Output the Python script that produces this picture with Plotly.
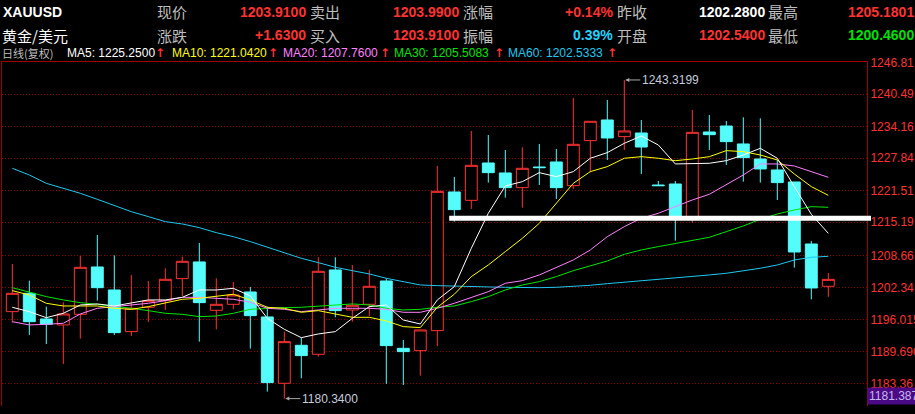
import plotly.graph_objects as go

# ---------------- data ----------------
idx = list(range(49))
opens = [1197.53, 1201.15, 1196.08, 1194.90, 1197.00, 1206.36, 1201.81, 1193.58, 1198.39, 1199.70,
         1204.05, 1207.35, 1197.79, 1198.98, 1201.42, 1196.48, 1183.37, 1190.88, 1189.10, 1205.77,
         1197.86, 1198.98, 1203.59, 1190.28, 1189.82, 1193.78, 1221.18, 1219.53, 1226.91, 1224.94,
         1222.04, 1226.12, 1227.11, 1222.43, 1231.33, 1235.41, 1232.12, 1232.84, 1222.56, 1222.76,
         1215.98, 1233.04, 1234.22, 1230.67, 1227.70, 1225.53, 1223.16, 1210.90, 1202.54]
highs = [1206.95, 1203.66, 1198.52, 1199.38, 1208.53, 1212.68, 1208.66, 1204.78, 1203.59, 1206.09,
         1208.40, 1211.10, 1204.12, 1203.39, 1202.41, 1198.52, 1193.58, 1192.39, 1208.27, 1208.27,
         1206.75, 1205.77, 1204.12, 1191.93, 1193.91, 1226.32, 1224.15, 1233.24, 1232.45, 1229.48,
         1230.01, 1230.67, 1229.68, 1239.76, 1235.15, 1239.36, 1243.3199, 1235.41, 1223.35, 1223.35,
         1237.39, 1236.40, 1235.21, 1235.94, 1235.74, 1227.50, 1223.16, 1211.50, 1205.18]
lows = [1195.36, 1192.92, 1191.14, 1187.19, 1192.20, 1199.70, 1192.92, 1192.72, 1195.49, 1197.86,
        1200.63, 1191.60, 1194.04, 1197.99, 1190.22, 1181.72, 1180.34, 1184.36, 1188.64, 1196.41,
        1195.55, 1196.67, 1183.24, 1183.04, 1184.88, 1190.75, 1215.32, 1217.82, 1223.03, 1220.06,
        1218.08, 1222.56, 1219.80, 1221.77, 1225.07, 1227.50, 1229.48, 1224.74, 1222.37, 1211.56,
        1215.12, 1229.48, 1226.52, 1223.22, 1223.03, 1219.60, 1206.23, 1199.97, 1200.46]
closes = [1201.15, 1195.55, 1195.03, 1197.07, 1206.29, 1202.27, 1193.38, 1198.19, 1199.70, 1203.92,
          1207.48, 1199.31, 1198.98, 1200.83, 1196.74, 1183.50, 1191.60, 1188.84, 1205.50, 1197.73,
          1198.78, 1202.54, 1190.81, 1189.63, 1193.91, 1221.31, 1217.69, 1226.45, 1225.00, 1222.04,
          1225.86, 1225.99, 1222.04, 1230.60, 1235.15, 1231.85, 1233.24, 1230.07, 1222.43, 1216.31,
          1232.97, 1232.51, 1231.13, 1227.97, 1225.73, 1223.03, 1209.32, 1202.21, 1203.91]

ma5 = [1198.39, 1197.53, 1196.34, 1197.20, 1198.85, 1199.05, 1198.65, 1199.18, 1199.84, 1199.84,
       1200.36, 1201.81, 1201.81, 1202.14, 1200.63, 1196.21, 1194.04, 1192.39, 1193.12, 1193.58,
       1196.21, 1198.52, 1198.85, 1195.88, 1195.09, 1199.84, 1202.47, 1210.05, 1216.97, 1222.37,
       1223.22, 1225.00, 1224.21, 1225.20, 1227.84, 1228.96, 1230.80, 1232.25, 1230.47, 1226.72,
       1226.85, 1226.85, 1227.37, 1228.49, 1229.81, 1227.84, 1222.24, 1216.77, 1213.01]
ma10 = [1201.68, 1200.82, 1199.18, 1198.65, 1198.65, 1198.65, 1198.19, 1197.99, 1198.52, 1199.18,
        1199.97, 1200.17, 1200.63, 1200.96, 1199.84, 1198.39, 1198.19, 1197.40, 1197.73, 1197.07,
        1196.41, 1196.41, 1195.69, 1194.57, 1194.37, 1198.39, 1200.96, 1204.45, 1206.75, 1209.39,
        1212.02, 1214.99, 1218.94, 1222.89, 1225.20, 1226.19, 1227.84, 1228.16, 1227.84, 1227.37,
        1227.70, 1228.16, 1229.35, 1229.15, 1228.49, 1227.51, 1224.74, 1222.24, 1220.52]
ma20 = [1195.55, 1194.90, 1195.03, 1195.23, 1197.07, 1198.19, 1198.52, 1198.85, 1199.18, 1199.70,
        1200.36, 1200.36, 1200.17, 1199.97, 1199.38, 1198.19, 1197.99, 1197.53, 1197.86, 1198.19,
        1198.19, 1198.19, 1197.99, 1197.40, 1197.40, 1198.19, 1199.18, 1200.30, 1201.48, 1203.13,
        1203.66, 1204.78, 1206.29, 1207.74, 1209.72, 1212.35, 1214.33, 1215.98, 1216.97, 1218.28,
        1219.60, 1220.72, 1222.57, 1224.54, 1226.72, 1226.72, 1226.32, 1225.20, 1224.08]
ma30 = [1202.27, 1201.35, 1200.50, 1199.84, 1199.31, 1198.98, 1198.65, 1198.19, 1197.73, 1197.20,
        1197.00, 1196.54, 1196.67, 1197.20, 1197.99, 1198.19, 1198.32, 1198.39, 1198.65, 1198.85,
        1199.05, 1198.85, 1198.19, 1197.86, 1197.99, 1198.39, 1198.65, 1199.51, 1200.50, 1201.81,
        1202.80, 1203.46, 1204.45, 1205.63, 1206.56, 1207.54, 1208.86, 1209.72, 1210.38, 1211.04,
        1211.56, 1212.22, 1213.34, 1214.46, 1215.78, 1216.83, 1217.62, 1218.28, 1218.15]
ma60 = [1225.86, 1224.54, 1222.89, 1221.91, 1220.92, 1219.73, 1218.48, 1217.29, 1216.31, 1215.32,
        1214.86, 1214.13, 1213.14, 1212.35, 1211.37, 1210.25, 1209.19, 1208.07, 1207.22, 1206.29,
        1205.63, 1204.98, 1204.12, 1203.46, 1202.80, 1202.67, 1202.54, 1202.47, 1202.41, 1202.34,
        1202.27, 1202.27, 1202.34, 1202.47, 1202.74, 1203.06, 1203.33, 1203.66, 1203.99, 1204.25,
        1204.45, 1204.78, 1205.11, 1205.57, 1206.10, 1206.75, 1207.74, 1208.27, 1208.47]

tick_vals = [1246.81, 1240.49, 1234.16, 1227.84, 1221.51, 1215.19, 1208.66, 1202.34, 1196.015, 1189.690, 1183.36]
tick_text = ["1246.81", "1240.49", "1234.16", "1227.84", "1221.51", "1215.19", "1208.66", "1202.34",
             "1196.015", "1189.690", "1183.36"]
axis_bottom_label = "1181.3871"
support_level = 1215.98
support_start = 25.7

header_row1 = [("XAUUSD", "#FFFFFF"), ("现价", None), ("1203.9100", "#FF3232"), ("卖出", None),
               ("1203.9900", "#FF3232"), ("涨幅", None), ("+0.14%", "#FF3232"), ("昨收", None),
               ("1202.2800", "#FFFFFF"), ("最高", None), ("1205.1801", "#FF3232")]
header_row2 = [("黄金/美元", "#FFFFFF"), ("涨跌", None), ("+1.6300", "#FF3232"), ("买入", None),
               ("1203.9100", "#FF3232"), ("振幅", None), ("0.39%", "#22D4FF"), ("开盘", None),
               ("1202.5400", "#FF3232"), ("最低", None), ("1200.4600", "#00E000")]
ma_legend = [("MA5: 1225.2500", "#FFFFFF"), ("MA10: 1221.0420", "#FFFF00"),
             ("MA20: 1207.7600", "#FF80FF"), ("MA30: 1205.5083", "#00E600"),
             ("MA60: 1202.5333", "#1EC8F0")]

# ---------------- layout geometry ----------------
W, H = 915, 414
PL, PR, PT, PB = 2, 867, 62, 406
X_RANGE = [-0.606, -0.606 + (PR - PL) / 17.0]
Y_RANGE = [1178.88, 1246.87]


def px(x):
    return (x - PL) / (PR - PL)


def py(y):
    return (PB - y) / (PB - PT)


def vy(v):
    return (v - Y_RANGE[0]) / (Y_RANGE[1] - Y_RANGE[0])


NUM = "Liberation Sans, Arial, sans-serif"
CJK = "Noto Sans CJK SC, sans-serif"
RED = "#FF3232"
CYAN = "#54FCFC"
GRID = "#8C0000"

fig = go.Figure()

fig.add_trace(go.Candlestick(
    x=idx, open=opens, high=highs, low=lows, close=closes,
    increasing=dict(line=dict(color=RED, width=1), fillcolor="#000000"),
    decreasing=dict(line=dict(color=CYAN, width=1), fillcolor=CYAN),
    whiskerwidth=0, hoverinfo="skip", showlegend=False,
))

for vals, col in [(ma60, "#1EC8F0"), (ma30, "#00E600"), (ma20, "#FF80FF"),
                  (ma10, "#FFFF00"), (ma5, "#FFFFFF")]:
    fig.add_trace(go.Scatter(x=idx, y=vals, mode="lines", line=dict(color=col, width=1),
                             hoverinfo="skip", showlegend=False))

annotations = []


def txt(text, x, y, color, size, family, anchor="left", bold=False):
    t = f"<b>{text}</b>" if bold else text
    annotations.append(dict(text=t, x=px(x), y=py(y), xref="paper", yref="paper",
                            xanchor=anchor, yanchor="middle", showarrow=False,
                            font=dict(color=color, size=size, family=family)))


GRAY = "#BEBEBE"
label_x = [157, 310, 463, 617, 768]
value_right = [306, 459, 613, 765]
for row, yc in [(header_row1, 12), (header_row2, 35)]:
    name, ncol = row[0]
    if row is header_row1:
        txt(name, 1, yc, ncol, 14, NUM, bold=True)
    else:
        txt(name, 0, yc, ncol, 15, CJK)
    for i in range(5):
        lab = row[1 + 2 * i][0]
        txt(lab, label_x[i] - 2, yc, GRAY, 15, CJK)
        if i < 4:
            v, c = row[2 + 2 * i]
            txt(v, value_right[i] + 2, yc, c, 14, NUM, anchor="right", bold=True)
    v, c = row[10]
    txt(v, 846, yc, c, 14, NUM, bold=True)

txt("日线(复权)", 0, 53, GRAY, 11, CJK)
ma_x = [65, 170, 281, 392, 506]
arrow_x = [153, 266, 378, 492, 605]
for (t, c), x0, ax0 in zip(ma_legend, ma_x, arrow_x):
    txt(t, x0, 53, c, 12, NUM)
    txt("↑", ax0, 53, RED, 12, "DejaVu Sans", bold=True)

# high / low markers
hi_i = max(idx, key=lambda i: highs[i])
lo_i = min(idx, key=lambda i: lows[i])
for i, v in [(hi_i, highs[hi_i]), (lo_i, lows[lo_i])]:
    annotations.append(dict(text=f"{v:.4f}", x=i, y=v, xref="x", yref="y",
                            showarrow=True, ax=16, ay=0, xanchor="left", yanchor="middle",
                            arrowhead=2, arrowsize=0.8, arrowwidth=1, arrowcolor="#A8A8A8",
                            standoff=1, font=dict(color="#C4CCDC", size=12, family=NUM)))

# bottom axis value box
annotations.append(dict(text=axis_bottom_label, x=1.0, y=py(396), xref="paper", yref="paper",
                        xanchor="left", yanchor="middle", showarrow=False, bgcolor="#4A0A86",
                        borderpad=1, font=dict(color="#C8B8F0", size=12, family=NUM)))

shapes = [
    dict(type="line", xref="paper", yref="paper",
         x0=(support_start - X_RANGE[0]) / (X_RANGE[1] - X_RANGE[0]), x1=px(871),
         y0=vy(support_level), y1=vy(support_level),
         line=dict(color="#FFFFFF", width=5), layer="above"),
]

fig.update_layout(
    width=W, height=H,
    margin=dict(l=PL, r=W - PR, t=PT, b=H - PB, pad=0, autoexpand=False),
    paper_bgcolor="#000000", plot_bgcolor="#000000",
    boxgap=0.3, boxgroupgap=0.0,
    showlegend=False, hovermode=False,
    annotations=annotations, shapes=shapes,
    xaxis=dict(range=X_RANGE, showgrid=False, zeroline=False, showticklabels=False,
               ticks="", showline=True, linecolor="#A00000", linewidth=1, side="top",
               rangeslider=dict(visible=False), fixedrange=True, automargin=False),
    yaxis=dict(range=Y_RANGE, side="right", tickvals=tick_vals, ticktext=tick_text,
               tickfont=dict(color=RED, size=12, family=NUM), ticks="",
               showgrid=True, gridcolor=GRID, griddash="1px,2px", gridwidth=1,
               zeroline=False, showline=True, linecolor="#A00000", linewidth=1, mirror=True,
               fixedrange=True, automargin=False),
)

fig.write_html(
    "out.html",
    config={"displayModeBar": False},
    post_script="document.body.style.margin='0';document.body.style.overflow='hidden';"
                "document.body.style.background='#000';",
)
